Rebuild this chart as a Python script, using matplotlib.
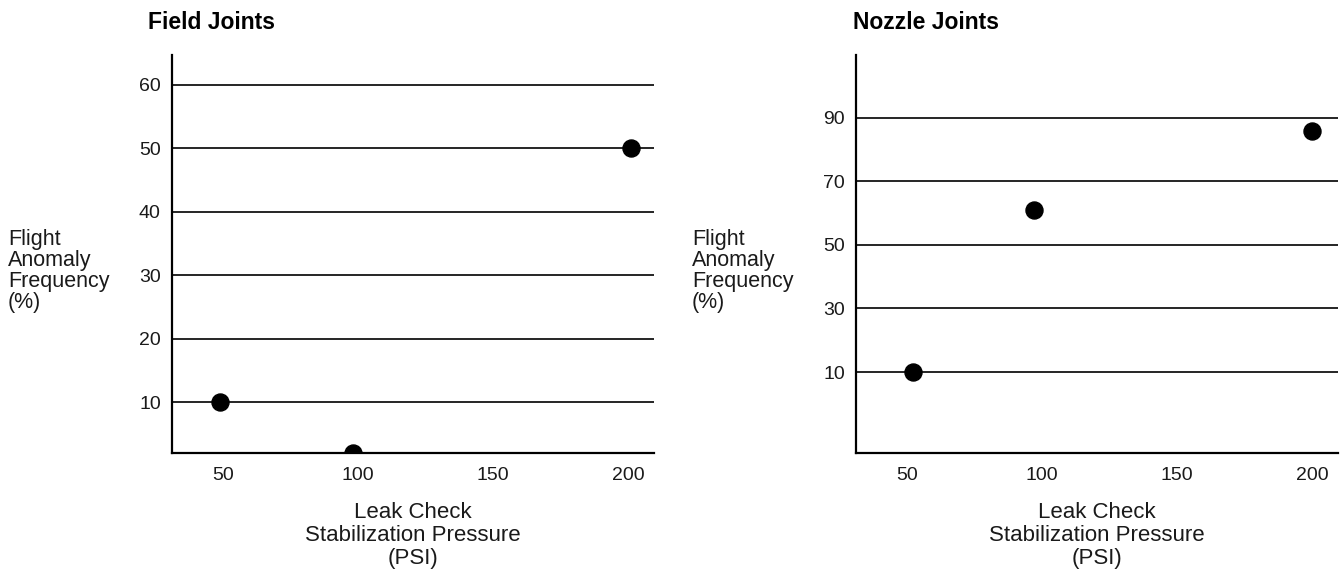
import matplotlib.pyplot as plt

plt.rcParams['font.family'] = ['Liberation Sans', 'DejaVu Sans']

# leak check pressure (psi) vs. flight anomaly frequency (%)
field_psi = [49, 98, 201]
field_freq = [10, 2, 50]
field_ticks = [10, 20, 30, 40, 50, 60]

nozzle_psi = [52, 97, 200]
nozzle_freq = [10, 61, 86]
nozzle_ticks = [10, 30, 50, 70, 90]

x_ticks = [50, 100, 150, 200]

ylabel = 'Flight\nAnomaly\nFrequency\n(%)'
xlabel = 'Leak Check\nStabilization Pressure\n(PSI)'

fig = plt.figure(figsize=(13.43, 5.8), dpi=100)

panels = [
    ('Field Joints', field_psi, field_freq, field_ticks, (2, 64.7), 0.128, 0.110, 8),
    ('Nozzle Joints', nozzle_psi, nozzle_freq, nozzle_ticks, (-15.5, 109.8), 0.6374, 0.635, 692),
]

for title, xs, ys, yt, ylim, left, title_x, lab_px in panels:
    ax = fig.add_axes([left, 0.219, 0.359, 0.686])
    for v in yt:
        ax.axhline(v, color='black', lw=1.2, zorder=1)
    ax.scatter(xs, ys, s=150, color='black', zorder=3, clip_on=True)
    ax.set_xlim(31, 209.6)
    ax.set_ylim(*ylim)
    ax.set_xticks(x_ticks)
    ax.set_yticks(yt)
    ax.tick_params(length=0, labelsize=14, colors='#1a1a1a')
    ax.tick_params(axis='y', pad=8)
    ax.tick_params(axis='x', pad=10)
    for s in ['top', 'right']:
        ax.spines[s].set_visible(False)
    for s in ['left', 'bottom']:
        ax.spines[s].set_linewidth(1.6)

    fig.text(title_x, 0.962, title, fontsize=16.5, fontweight='bold',
             ha='left', va='center')
    fig.text(lab_px / 1343, 0.533, ylabel, fontsize=15.5, ha='left',
             va='center', linespacing=1.0, color='#1a1a1a')
    fig.text(left + 0.359 / 2, 0.076, xlabel, fontsize=16, ha='center',
             va='center', linespacing=1.12, color='#1a1a1a')

fig.savefig('out.png', dpi=100, facecolor='white')
